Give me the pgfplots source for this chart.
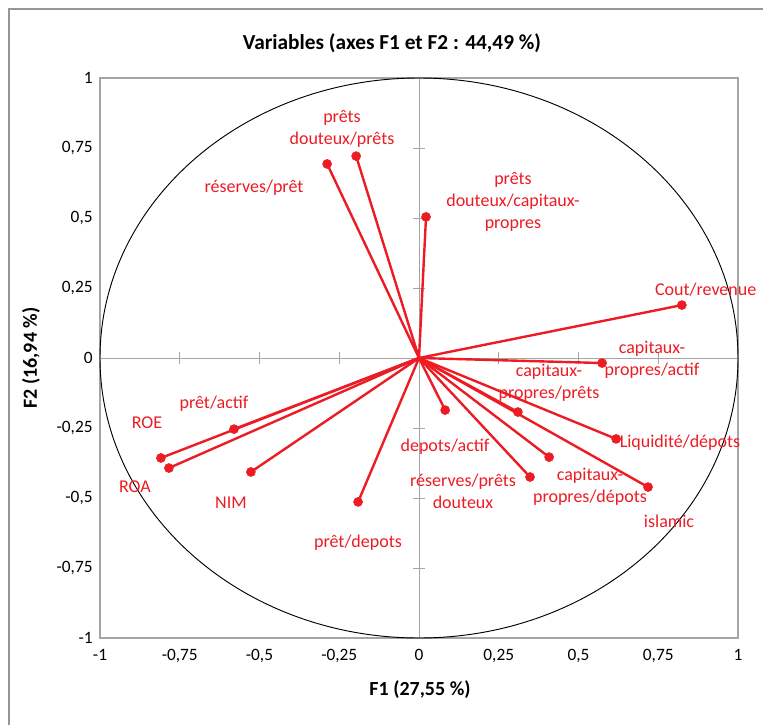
\documentclass[border=0pt]{standalone}
\usepackage{fontspec}
\setmainfont{Carlito}
\usepackage{pgfplots}
\usepackage{pgfplotstable}
\pgfplotsset{compat=1.18}
\definecolor{vred}{RGB}{237,28,36}
\definecolor{axgray}{RGB}{165,165,165}
\definecolor{framegray}{RGB}{150,150,150}

\pgfplotstableread{
z x y
0 -0.197 0.721
0 -0.288 0.693
0 0.022 0.504
0 0.824 0.189
0 0.574 -0.018
0 0.310 -0.193
0 0.618 -0.289
0 0.408 -0.354
0 0.718 -0.461
0 0.348 -0.425
0 0.082 -0.186
0 -0.191 -0.514
0 -0.527 -0.407
0 -0.580 -0.254
0 -0.809 -0.357
0 -0.784 -0.393
}\vars

\newcommand{\lab}{\fontsize{13.5}{16.5}\selectfont}

\begin{document}
\begin{tikzpicture}[x=0.75pt,y=-0.75pt]
\useasboundingbox (0,0) rectangle (763,724);
\fill[white] (0,0) rectangle (763,724);
\draw[framegray, line width=1.5pt] (9,740) -- (9,9) -- (780,9);
\begin{axis}[at={(75pt,-58.5pt)}, anchor=north west, scale only axis,
  width=478.5pt, height=420pt, xmin=-1, xmax=1, ymin=-1, ymax=1,
  axis lines=middle, axis line style={axgray,-}, tick style={axgray, line width=0.6pt},
  xtick={-1,-0.75,-0.5,-0.25,0,0.25,0.5,0.75,1},
  ytick={-1,-0.75,-0.5,-0.25,0,0.25,0.5,0.75,1},
  xticklabels={}, yticklabels={}, major tick length=9pt, tick align=center]
\end{axis}
\begin{axis}[at={(75pt,-58.5pt)}, anchor=north west, scale only axis,
  width=478.5pt, height=420pt, xmin=-1, xmax=1, ymin=-1, ymax=1,
  axis line style={axgray, line width=0.8pt},
  xtick={-1,-0.75,-0.5,-0.25,0,0.25,0.5,0.75,1},
  ytick={-1,-0.75,-0.5,-0.25,0,0.25,0.5,0.75,1},
  major tick length=0pt,
  tick label style={font=\fontsize{13}{15}\selectfont},
  xticklabel style={yshift=-5pt},
  yticklabel style={xshift=-2pt},
  /pgf/number format/use comma,
  /pgf/number format/assume math mode=true,
  clip=false]
\draw[black, line width=0.7pt] (axis cs:0,0) ellipse [x radius=1, y radius=1];
\addplot[vred, line width=1.8pt, quiver={u=\thisrow{x}, v=\thisrow{y}}] table[x=z, y=z] {\vars};
\addplot[only marks, mark=*, mark size=3.4pt, color=vred] table[x=x, y=y] {\vars};
\end{axis}
\node[vred, align=center, font=\lab] at (342,129) {prêts\\douteux/prêts};
\node[vred, font=\lab] at (254,188) {réserves/prêt};
\node[vred, align=center, font=\lab] at (513,202) {prêts\\douteux/capitaux-\\propres};
\node[vred, anchor=east, font=\lab] at (761,290) {Cout/revenue};
\node[vred, align=center, font=\lab] at (652,360) {capitaux-\\propres/actif};
\node[vred, align=center, font=\lab] at (549,383) {capitaux-\\propres/prêts};
\node[vred, font=\lab] at (680,443) {Liquidité/dépots};
\node[vred, align=center, font=\lab] at (590,487) {capitaux-\\propres/dépots};
\node[vred, font=\lab] at (669,521) {islamic};
\node[vred, align=center, font=\lab] at (463,491) {réserves/prêts\\douteux};
\node[vred, font=\lab] at (445,447) {depots/actif};
\node[vred, font=\lab] at (358,543) {prêt/depots};
\node[vred, font=\lab] at (231,503) {NIM};
\node[vred, font=\lab] at (214,404) {prêt/actif};
\node[vred, font=\lab] at (147,423) {ROE};
\node[vred, font=\lab] at (135,487) {ROA};
\node[font=\fontsize{16}{19}\selectfont\bfseries] at (392,43) {Variables (axes F1 et F2 : 44,49 \%)};
\node[font=\fontsize{15}{18}\selectfont\bfseries] at (420,690) {F1 (27,55 \%)};
\node[font=\fontsize{15}{18}\selectfont\bfseries, rotate=90] at (31,358) {F2 (16,94 \%)};
\end{tikzpicture}
\end{document}
